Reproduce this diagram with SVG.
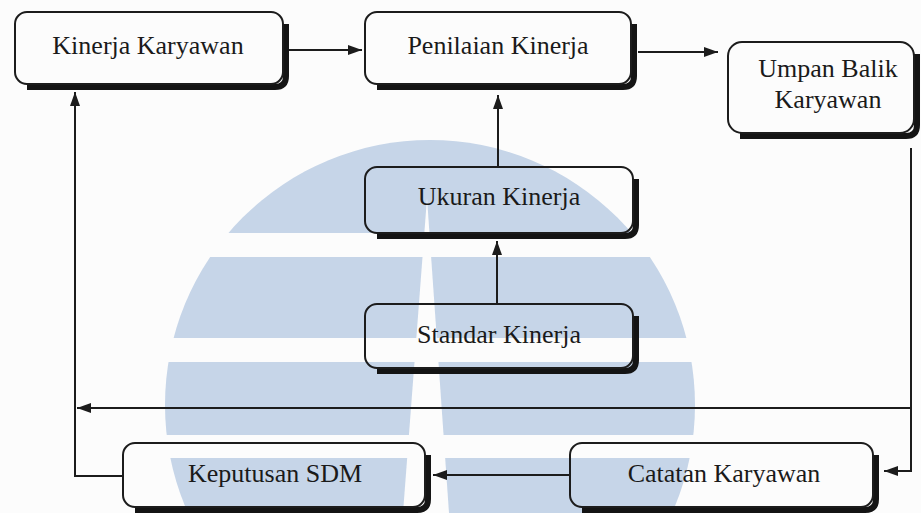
<svg xmlns="http://www.w3.org/2000/svg" width="921" height="513" viewBox="0 0 921 513">
<defs>
<style>
.box{fill:none;stroke:#1c1c1c;stroke-width:2}
.sh{fill:none;stroke:#141414;stroke-width:6;stroke-linecap:butt;stroke-linejoin:round}
.lbl{font-family:"Liberation Serif","Times New Roman",serif;font-size:26px;fill:#1a1a1a;text-anchor:middle}
.con{fill:none;stroke:#1c1c1c;stroke-width:2}
.wm{fill:#c6d5e8}
.wg{fill:#fcfcfc}
</style>
<marker id="ah" viewBox="0 0 14 10" refX="14" refY="5" markerUnits="userSpaceOnUse" markerWidth="14" markerHeight="10" orient="auto">
<path d="M0,0 L14,5 L0,10 z" fill="#1c1c1c"/>
</marker>
</defs>
<rect width="921" height="513" fill="#fcfcfc"/>
<g id="watermark">
<circle class="wm" cx="430" cy="405" r="265"/>
<rect class="wg" x="150" y="233" width="560" height="24"/>
<rect class="wg" x="150" y="338" width="560" height="24"/>
<rect class="wg" x="150" y="435" width="560" height="23"/>
<polygon class="wg" points="427,198 449,513 403,513"/>
</g>
<g id="connectors">
<line class="con" x1="289" y1="50" x2="362" y2="50" marker-end="url(#ah)"/>
<line class="con" x1="638" y1="52" x2="718" y2="52" marker-end="url(#ah)"/>
<line class="con" x1="498" y1="167" x2="498" y2="95" marker-end="url(#ah)"/>
<line class="con" x1="497" y1="304" x2="497" y2="241" marker-end="url(#ah)"/>
<polyline class="con" points="911,148 911,471 884,471" marker-end="url(#ah)"/>
<line class="con" x1="911" y1="408" x2="77" y2="408" marker-end="url(#ah)"/>
<line class="con" x1="570" y1="475" x2="433" y2="475" marker-end="url(#ah)"/>
<polyline class="con" points="123,476 75,476 75,92" marker-end="url(#ah)"/>
</g>
<g id="kinerja-karyawan">
<path class="sh" d="M286,24 V76 Q286,87 275,87 H27"/>
<rect class="box" x="15" y="12" width="268" height="72" rx="12"/>
<text class="lbl" x="148" y="54">Kinerja Karyawan</text>
</g>
<g id="penilaian-kinerja">
<path class="sh" d="M634,24 V76 Q634,87 623,87 H377"/>
<rect class="box" x="365" y="12" width="266" height="72" rx="12"/>
<text class="lbl" x="498" y="54">Penilaian Kinerja</text>
</g>
<g id="umpan-balik-karyawan">
<path class="sh" d="M917,54 V125 Q917,136 906,136 H740"/>
<rect class="box" x="728" y="42" width="186" height="91" rx="14"/>
<text class="lbl" x="828" y="77">Umpan Balik</text>
<text class="lbl" x="828" y="108">Karyawan</text>
</g>
<g id="ukuran-kinerja">
<path class="sh" d="M636,179 V225 Q636,236 625,236 H377"/>
<rect class="box" x="365" y="167" width="268" height="66" rx="12"/>
<text class="lbl" x="499" y="205">Ukuran Kinerja</text>
</g>
<g id="standar-kinerja">
<path class="sh" d="M636,316 V360 Q636,371 625,371 H377"/>
<rect class="box" x="365" y="304" width="268" height="64" rx="12"/>
<text class="lbl" x="499" y="343">Standar Kinerja</text>
</g>
<g id="keputusan-sdm">
<path class="sh" d="M428,455 V499 Q428,510 417,510 H135"/>
<rect class="box" x="123" y="443" width="302" height="64" rx="12"/>
<text class="lbl" x="275" y="482">Keputusan SDM</text>
</g>
<g id="catatan-karyawan">
<path class="sh" d="M876,455 V499 Q876,510 865,510 H582"/>
<rect class="box" x="570" y="443" width="303" height="64" rx="12"/>
<text class="lbl" x="724" y="482">Catatan Karyawan</text>
</g>
</svg>
